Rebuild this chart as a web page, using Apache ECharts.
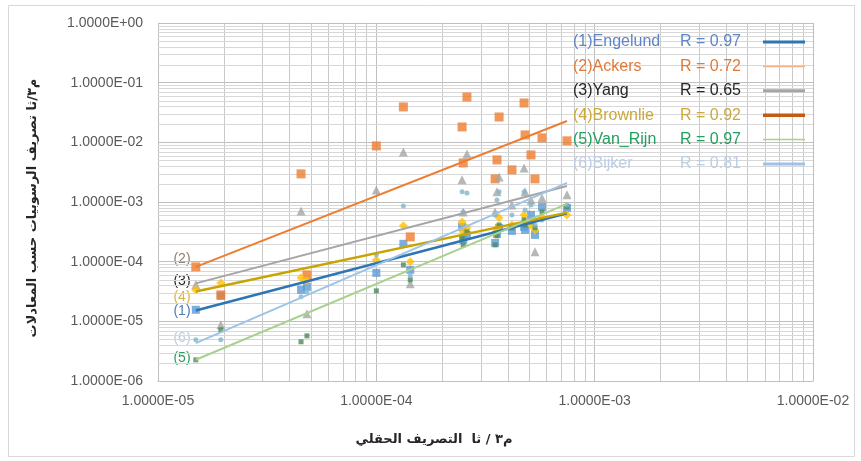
<!DOCTYPE html>
<html>
<head>
<meta charset="utf-8">
<script src="https://cdn.jsdelivr.net/npm/echarts@6/dist/echarts.min.js"></script>
<style>
  html, body { margin: 0; padding: 0; background: #ffffff; }
  #chart { width: 861px; height: 461px; }
</style>
</head>
<body>
<div id="chart"></div>
<script>
// Measured (field) sediment discharge, m3/s
const fieldQ = [1.49e-5, 1.94e-5, 4.52e-5, 4.81e-5, 1.00e-4, 1.33e-4, 1.43e-4, 2.47e-4, 2.50e-4, 2.60e-4,
                3.50e-4, 3.57e-4, 3.65e-4, 4.18e-4, 4.75e-4, 4.80e-4, 5.11e-4, 5.33e-4, 5.74e-4, 7.47e-4];

// Computed discharge for each equation, same order as fieldQ
const engelund = [1.56e-5, 2.67e-5, 3.37e-5, 3.78e-5, 6.49e-5, 1.99e-4, 7.29e-5, 3.83e-4, 2.32e-4, 2.81e-4,
                  2.06e-4, 2.92e-4, 3.68e-4, 3.28e-4, 3.83e-4, 3.41e-4, 6.08e-4, 2.81e-4, 8.28e-4, 7.96e-4];
const ackers = [8.18e-5, 2.78e-5, 2.96e-3, 6.01e-5, 8.70e-3, 3.92e-2, 2.60e-4, 1.81e-2, 4.52e-3, 5.76e-2,
                2.44e-3, 5.07e-3, 2.66e-2, 3.45e-3, 4.57e-2, 1.33e-2, 6.15e-3, 2.44e-3, 1.19e-2, 1.06e-2];
const yang = [4.09e-5, 8.74e-6, 7.09e-4, 1.34e-5, 1.59e-3, 6.91e-3, 4.25e-5, 2.35e-3, 6.83e-4, 6.39e-3,
              6.83e-4, 1.48e-3, 2.63e-3, 8.94e-4, 3.73e-3, 1.48e-3, 1.08e-3, 1.46e-4, 1.17e-3, 1.32e-3];
const brownlie = [3.37e-5, 4.41e-5, 5.35e-5, 4.77e-5, 1.07e-4, 3.98e-4, 9.92e-5, 4.64e-4, 3.16e-4, 3.68e-4,
                  3.04e-4, 3.68e-4, 5.42e-4, 4.13e-4, 6.08e-4, 4.64e-4, 4.13e-4, 3.41e-4, 5.42e-4, 6.08e-4];
const vanRijn = [2.26e-6, 7.21e-6, 4.54e-6, 5.71e-6, 3.24e-5, 8.84e-5, 4.96e-5, 2.50e-4, 1.91e-4, 3.16e-4,
                 1.91e-4, 2.71e-4, 4.13e-4, 3.68e-4, 5.01e-4, 4.13e-4, 4.64e-4, 3.68e-4, 6.83e-4, 8.28e-4];
const bijker = [4.90e-6, 4.90e-6, 2.57e-5, 3.12e-5, 1.30e-4, 8.60e-4, 5.78e-5, 1.48e-3, 6.83e-4, 1.42e-3,
                6.08e-4, 1.08e-3, 1.48e-3, 6.08e-4, 1.48e-3, 7.37e-4, 8.94e-4, 4.13e-4, 5.01e-4, 8.94e-4];

// Power trend lines: value at the first and last field discharge
const trendX = [1.49e-5, 7.47e-4];
const engelundTrend = [1.52e-5, 6.49e-4];
const ackersTrend = [8.18e-5, 2.28e-2];
const yangTrend = [4.33e-5, 1.86e-3];
const brownlieTrend = [3.16e-5, 6.64e-4];
const vanRijnTrend = [2.27e-6, 9.29e-4];
const bijkerTrend = [4.31e-6, 2.09e-3];

const names = ['(1)Engelund', '(2)Ackers', '(3)Yang', '(4)Brownlie', '(5)Van_Rijn', '(6)Bijker'];
const rValues = ['0.97', '0.72', '0.65', '0.92', '0.97', '0.81'];
const shortTags = ['(1)', '(2)', '(3)', '(4)', '(5)', '(6)'];

const xTickLabels = ['1.0000E-05', '1.0000E-04', '1.0000E-03', '1.0000E-02'];
const yTickLabels = ['1.0000E-06', '1.0000E-05', '1.0000E-04', '1.0000E-03', '1.0000E-02', '1.0000E-01', '1.0000E+00'];

const xTitle = 'م٣ / ثا  التصريف الحقلي';
const yTitle = 'م٣/ثا تصريف الرسوبيات حسب المعادلات';

const FONT = 'Liberation Sans';

const values = [engelund, ackers, yang, brownlie, vanRijn, bijker];
const trends = [engelundTrend, ackersTrend, yangTrend, brownlieTrend, vanRijnTrend, bijkerTrend];

const markerStyles = [
  { symbol: 'rect', size: 8, color: '#5B9BD5' },
  { symbol: 'rect', size: 9, color: '#ED7D31' },
  { symbol: 'triangle', size: 9, color: '#A5A5A5' },
  { symbol: 'diamond', size: 9, color: '#FFC000' },
  { symbol: 'rect', size: 5, color: '#4E8A5A' },
  { symbol: 'circle', size: 5, color: '#7EB6CC' }
];
const lineColors = ['#2E75B6', '#ED7D31', '#A5A5A5', '#C9A400', '#A9D18E', '#9DC3E6'];
const lineWidths = [2.5, 2, 2, 2.5, 2, 2];
const legendLineColors = ['#2E75B6', '#F4B183', '#A5A5A5', '#C55A11', '#A9D18E', '#9DC3E6'];
const legendLineWidths = [3, 1.5, 3, 3.5, 1.5, 3];
const textColors = ['#5F85C6', '#E07A3A', '#262626', '#CDA838', '#22A05E', '#BCCDE8'];
const tagColors = ['#4F79B8', '#8E7D72', '#262626', '#D8B440', '#2E9B5E', '#BCCBE0'];
const tagY = [311, 259, 281, 297, 358, 338];

// Minor gridlines at 2..9 of every decade
function minorValues(fromExp, toExp) {
  const out = [];
  for (let e = fromExp; e < toExp; e++) {
    for (let m = 2; m <= 9; m++) out.push(m * Math.pow(10, e));
  }
  return out;
}

function expLabel(v, labels, firstExp) {
  const e = Math.round(Math.log10(v));
  return labels[e - firstExp] || '';
}

const chart = echarts.init(document.getElementById('chart'), null, { renderer: 'canvas' });

const X_MIN = 1e-5, X_MAX = 1e-2, Y_MIN = 1e-6, Y_MAX = 1;

const series = [];

// Minor gridlines (vertical and horizontal)
series.push({
  name: 'x-minor', type: 'custom', silent: true, z: 1,
  data: minorValues(-5, -2).map(v => [v, Y_MIN]),
  encode: { x: 0, y: 1 },
  renderItem: (params, api) => {
    const v = api.value(0);
    const a = api.coord([v, Y_MIN]);
    const b = api.coord([v, Y_MAX]);
    const x = Math.round(a[0]) + 0.5;
    return { type: 'line', shape: { x1: x, y1: a[1], x2: x, y2: b[1] }, style: { stroke: '#C9C9C9', lineWidth: 1 } };
  }
});
series.push({
  name: 'y-minor', type: 'custom', silent: true, z: 1,
  data: minorValues(-6, 0).map(v => [X_MIN, v]),
  encode: { x: 0, y: 1 },
  renderItem: (params, api) => {
    const v = api.value(1);
    const a = api.coord([X_MIN, v]);
    const b = api.coord([X_MAX, v]);
    const y = Math.round(a[1]) + 0.5;
    return { type: 'line', shape: { x1: a[0], y1: y, x2: b[0], y2: y }, style: { stroke: '#D8D8D8', lineWidth: 1 } };
  }
});

// Scatter points
values.forEach((arr, i) => {
  series.push({
    name: names[i] + ' pts',
    type: 'scatter',
    data: fieldQ.map((q, k) => [q, arr[k]]),
    symbol: markerStyles[i].symbol,
    symbolSize: markerStyles[i].size,
    itemStyle: { color: markerStyles[i].color },
    z: 3
  });
});

// Trend lines
trends.forEach((t, i) => {
  series.push({
    name: names[i],
    type: 'line',
    data: trendX.map((q, k) => [q, t[k]]),
    symbol: 'none',
    lineStyle: { color: lineColors[i], width: lineWidths[i] },
    itemStyle: { color: lineColors[i] },
    z: 4
  });
});

const rich = {};
names.forEach((n, i) => {
  rich['a' + i] = { color: textColors[i], fontSize: 16, fontFamily: FONT, width: 107, align: 'left' };
  rich['b' + i] = { color: textColors[i], fontSize: 16, fontFamily: FONT, width: 78, align: 'left' };
});

const graphic = [
  { type: 'rect', shape: { x: 8.5, y: 5.5, width: 846, height: 451 }, style: { fill: null, stroke: '#D9D9D9', lineWidth: 1 }, silent: true },
  { type: 'text', x: 434, y: 440, style: { text: xTitle, fill: '#262626', font: 'bold 13px "DejaVu Sans"', align: 'center', verticalAlign: 'middle' } },
  { type: 'text', x: 33, y: 208, rotation: Math.PI / 2, style: { text: yTitle, fill: '#262626', font: 'bold 13px "DejaVu Sans"', align: 'center', verticalAlign: 'middle' } }
];
shortTags.forEach((t, i) => {
  graphic.push({ type: 'text', x: 182, y: tagY[i], style: { text: t, fill: tagColors[i], font: '14px "' + FONT + '"', align: 'center', verticalAlign: 'middle' } });
});

chart.setOption({
  animation: false,
  backgroundColor: '#ffffff',
  grid: { left: 158, right: 48, top: 23, bottom: 80, containLabel: false },
  xAxis: {
    type: 'log', logBase: 10, min: X_MIN, max: X_MAX,
    axisLine: { show: true, lineStyle: { color: '#BFBFBF' } },
    axisTick: { show: false },
    splitLine: { show: true, lineStyle: { color: '#BFBFBF', width: 1 } },
    axisLabel: { margin: 13, color: '#595959', fontSize: 14, fontFamily: FONT,
      formatter: v => expLabel(v, xTickLabels, -5) }
  },
  yAxis: {
    type: 'log', logBase: 10, min: Y_MIN, max: Y_MAX,
    axisLine: { show: true, lineStyle: { color: '#BFBFBF' } },
    axisTick: { show: false },
    splitLine: { show: true, lineStyle: { color: '#BFBFBF', width: 1 } },
    axisLabel: { margin: 15, color: '#595959', fontSize: 14, fontFamily: FONT,
      formatter: v => expLabel(v, yTickLabels, -6) }
  },
  legend: {
    orient: 'vertical', left: 573, top: 34, padding: 0,
    align: 'right', itemGap: 8.4, itemWidth: 42, itemHeight: 14,
    symbolKeepAspect: true,
    selectedMode: false,
    data: names.map((n, i) => ({
      name: n,
      icon: 'path://M0,0 H42 V' + legendLineWidths[i] + ' H0 Z',
      itemStyle: { color: legendLineColors[i], borderWidth: 0 }
    })),
    formatter: n => {
      const i = names.indexOf(n);
      return '{a' + i + '|' + n + '}{b' + i + '|R = ' + rValues[i] + '}';
    },
    textStyle: { fontFamily: FONT, fontSize: 16, rich: rich }
  },
  graphic: graphic,
  series: series
});
</script>
</body>
</html>
